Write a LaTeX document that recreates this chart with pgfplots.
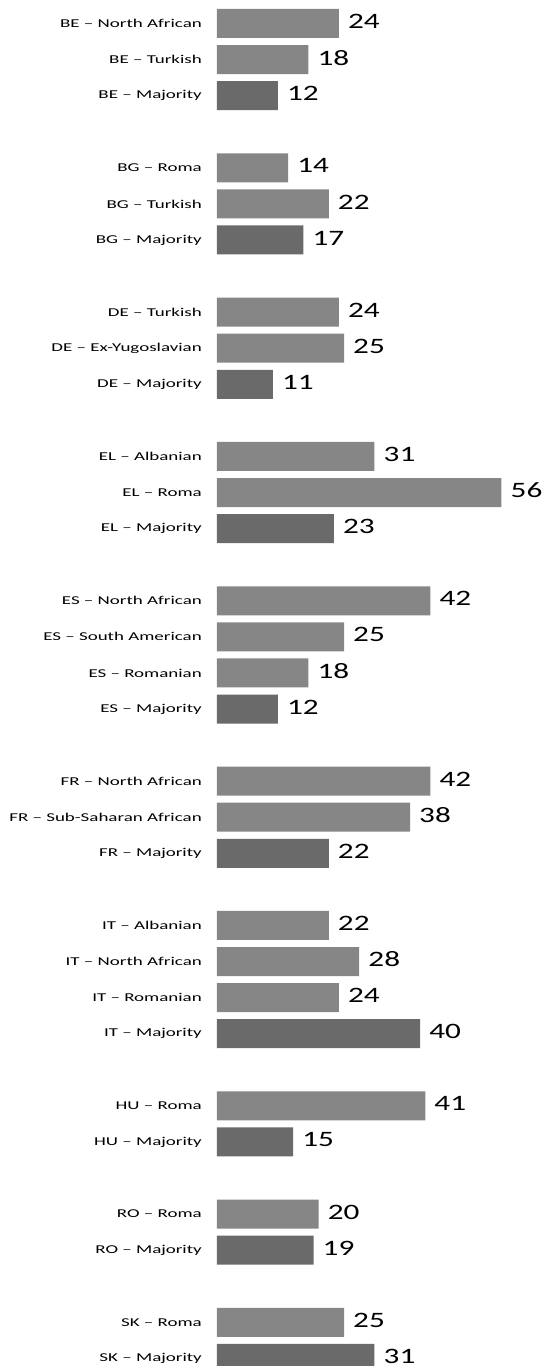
\documentclass[border=0pt]{standalone}
\usepackage{fontspec}
\setmainfont{Carlito}
\newfontfamily\labfont[FakeStretch=1.58]{Carlito}
\newfontfamily\numfont[FakeStretch=1.42]{Carlito}
\usepackage{pgfplots}
\pgfplotsset{compat=1.18}
\definecolor{lightbar}{RGB}{134,134,134}
\definecolor{darkbar}{RGB}{106,106,106}
\begin{document}
\begin{tikzpicture}[x=1pt,y=1pt]
\begin{axis}[
  at={(0,0)}, anchor=south west,
  scale only axis, width=330pt, height=1366pt,
  xbar, bar width=29pt, bar shift=0pt,
  xmin=0, xmax=64.96,
  ymin=-0.651, ymax=37.21, y dir=reverse,
  clip=false,
  axis line style={draw=none}, major tick length=0pt, xtick=\empty,
  /pgf/number format/assume math mode=true,
  ytick={0,1,2,4,5,6,8,9,10,12,13,14,16,17,18,19,21,22,23,25,26,27,28,30,31,33,34,36,37},
  yticklabels={BE – North African,BE – Turkish,BE – Majority,BG – Roma,BG – Turkish,BG – Majority,DE – Turkish,DE – Ex-Yugoslavian,DE – Majority,EL – Albanian,EL – Roma,EL – Majority,ES – North African,ES – South American,ES – Romanian,ES – Majority,FR – North African,FR – Sub-Saharan African,FR – Majority,IT – Albanian,IT – North African,IT – Romanian,IT – Majority,HU – Roma,HU – Majority,RO – Roma,RO – Majority,SK – Roma,SK – Majority},
  yticklabel style={font=\labfont\fontsize{12}{13}\selectfont, inner sep=0pt, xshift=-15pt},
  nodes near coords,
  nodes near coords style={font=\numfont\fontsize{22}{24}\selectfont, inner sep=0pt, anchor=west, xshift=9pt, yshift=2pt},
  point meta=x,
]
\addplot[draw=none, fill=lightbar] coordinates {
 (24,0) (18,1) (14,4) (22,5) (24,8) (25,9) (31,12) (56,13) (42,16) (25,17) (18,18)
 (42,21) (38,22) (22,25) (28,26) (24,27) (41,30) (20,33) (25,36)};
\addplot[draw=none, fill=darkbar] coordinates {
 (12,2) (17,6) (11,10) (23,14) (12,19) (22,23) (40,28) (15,31) (19,34) (31,37)};
\end{axis}
\pgfresetboundingbox
\path[use as bounding box] (-217,0) rectangle (330,1366);
\end{tikzpicture}
\end{document}
